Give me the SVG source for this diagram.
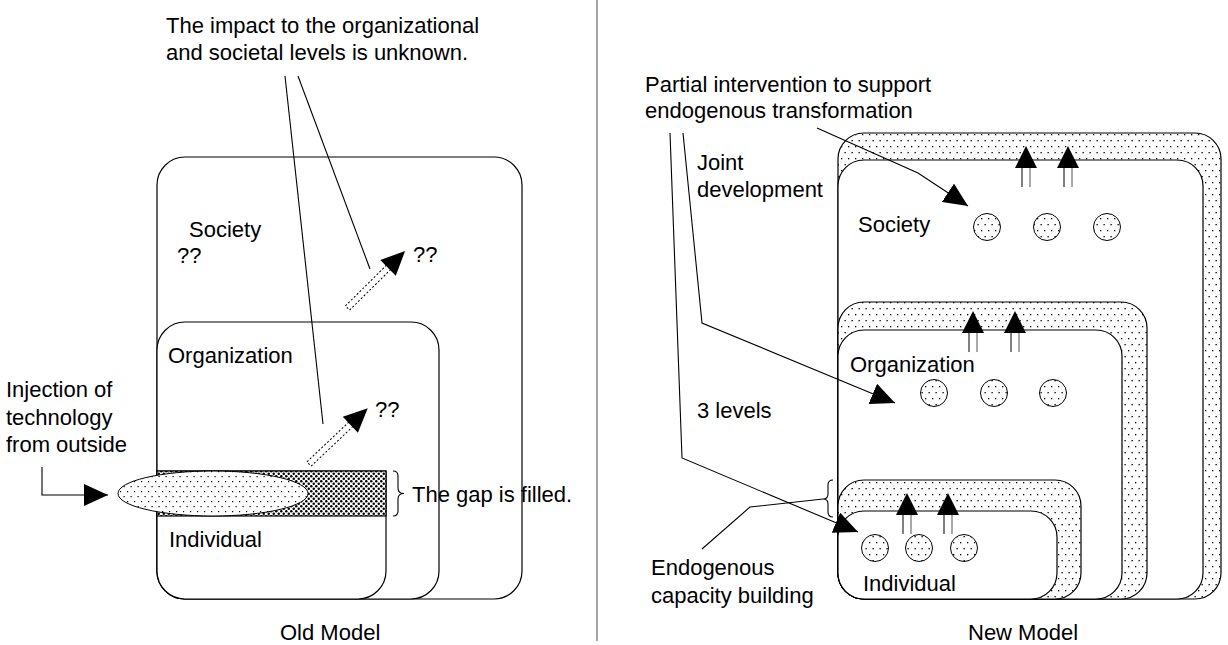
<svg xmlns="http://www.w3.org/2000/svg" width="1228" height="645" viewBox="0 0 1228 645">
  <style>
    text { font-family: "Liberation Sans", Arial, Helvetica, sans-serif; font-size: 22px; fill: #000; }
    .box { stroke: #000; stroke-width: 1.2; }
    .wire { fill: none; stroke: #000; stroke-width: 1.1; }
    .hollow { fill: #fff; stroke: #000; stroke-width: 1; stroke-dasharray: 2 2; }
  </style>
  <defs>
    <!-- sparse staggered dots used for capacity bands and small circles -->
    <pattern id="dots" width="7" height="12" patternUnits="userSpaceOnUse">
      <rect width="7" height="12" fill="#fff"/>
      <rect x="1" y="2" width="1.3" height="1.3" fill="#000"/>
      <rect x="4.5" y="8" width="1.3" height="1.3" fill="#000"/>
    </pattern>
    <!-- slightly denser dots for the injected technology -->
    <pattern id="fine" width="7" height="10" patternUnits="userSpaceOnUse">
      <rect width="7" height="10" fill="#fff"/>
      <rect x="1" y="1" width="1.2" height="1.2" fill="#000"/>
      <rect x="4.5" y="6" width="1.2" height="1.2" fill="#000"/>
    </pattern>
    <!-- dense checker of dots for the filled gap -->
    <pattern id="dense" width="5" height="5" patternUnits="userSpaceOnUse">
      <rect width="5" height="5" fill="#fff"/>
      <circle cx="1.25" cy="1.25" r="1.25" fill="#000"/>
      <circle cx="3.75" cy="3.75" r="1.25" fill="#000"/>
    </pattern>
    <marker id="head" viewBox="0 0 24 22" refX="24" refY="11" markerWidth="24" markerHeight="22" markerUnits="userSpaceOnUse" orient="auto">
      <path d="M0,0 L24,11 L0,22 Z" fill="#000"/>
    </marker>
    <!-- upward double-shaft arrow, origin at base of head -->
    <g id="uparrow">
      <line x1="-4" y1="0" x2="-4" y2="19" stroke="#000" stroke-width="1"/>
      <line x1="4" y1="0" x2="4" y2="19" stroke="#555" stroke-width="1"/>
      <path d="M-11,0 L0,-22 L11,0 Z" fill="#000"/>
    </g>
    <!-- hollow dotted arrow pointing along +x -->
    <g id="dashedarrow">
      <rect x="0" y="-3" width="58" height="6" class="hollow"/>
      <path d="M57,-11 L81,0 L57,11 Z" fill="#000"/>
    </g>
  </defs>

  <rect width="1228" height="645" fill="#fff"/>

  <!-- divider between the two models -->
  <line x1="597" y1="0" x2="597" y2="641" stroke="#777" stroke-width="1.3"/>

  <!-- ===== Old model ===== -->
  <g id="old-society">
    <rect class="box" x="157" y="157" width="365" height="442" rx="28" fill="#fff"/>
    <text x="189" y="237">Society</text>
    <text x="177" y="263">??</text>
  </g>
  <g id="old-organization">
    <rect class="box" x="157" y="322" width="282" height="277" rx="28" fill="#fff"/>
    <text x="168" y="363">Organization</text>
  </g>
  <g id="old-individual">
    <path class="box" d="M157,471 H386 V571 A28,28 0 0 1 358,599 H185 A28,28 0 0 1 157,571 Z" fill="#fff"/>
    <text x="169" y="547">Individual</text>
  </g>
  <g id="old-gap">
    <rect class="box" x="157" y="471" width="229" height="45" fill="url(#dense)"/>
    <path class="wire" d="M393,471 Q398,471 398,476 L398,488 Q398,493.5 404,493.5 Q398,493.5 398,499 L398,511 Q398,516 393,516"/>
    <text x="412" y="502">The gap is filled.</text>
  </g>
  <g id="old-technology">
    <ellipse cx="213" cy="493.5" rx="95" ry="22.5" fill="url(#fine)" stroke="#000" stroke-width="1"/>
  </g>
  <g id="old-injection">
    <text x="6" y="397">Injection of</text>
    <text x="6" y="425">technology</text>
    <text x="6" y="452">from outside</text>
  </g>
  <g id="old-impacts">
    <use href="#dashedarrow" transform="translate(309,464) rotate(-43.5)"/>
    <text x="375" y="417">??</text>
    <use href="#dashedarrow" transform="translate(347.5,308) rotate(-44.7)"/>
    <text x="413" y="262">??</text>
  </g>
  <g id="old-note">
    <text x="166" y="33">The impact to the organizational</text>
    <text x="166" y="60">and societal levels is unknown.</text>
  </g>
  <text x="280" y="640">Old Model</text>

  <!-- ===== New model ===== -->
  <g id="new-society">
    <rect class="box" x="838" y="133" width="383" height="466" rx="26" fill="url(#dots)"/>
    <rect class="box" x="838" y="160" width="365" height="439" rx="26" fill="#fff"/>
    <use href="#uparrow" x="1026" y="168"/>
    <use href="#uparrow" x="1068" y="168"/>
    <circle cx="987" cy="227" r="13.5" fill="url(#dots)" stroke="#000"/>
    <circle cx="1047" cy="227" r="13.5" fill="url(#dots)" stroke="#000"/>
    <circle cx="1107" cy="227" r="13.5" fill="url(#dots)" stroke="#000"/>
    <text x="858" y="232">Society</text>
  </g>
  <g id="new-organization">
    <rect class="box" x="838" y="302" width="309" height="297" rx="26" fill="url(#dots)"/>
    <rect class="box" x="838" y="330" width="284" height="269" rx="26" fill="#fff"/>
    <use href="#uparrow" x="973" y="333"/>
    <use href="#uparrow" x="1015" y="333"/>
    <circle cx="934" cy="393" r="13.5" fill="url(#dots)" stroke="#000"/>
    <circle cx="994" cy="393" r="13.5" fill="url(#dots)" stroke="#000"/>
    <circle cx="1053" cy="393" r="13.5" fill="url(#dots)" stroke="#000"/>
    <text x="850" y="372">Organization</text>
  </g>
  <g id="new-individual">
    <rect class="box" x="838" y="480" width="243" height="119" rx="26" fill="url(#dots)"/>
    <rect class="box" x="838" y="511" width="219" height="88" rx="26" fill="#fff"/>
    <use href="#uparrow" x="907" y="515"/>
    <use href="#uparrow" x="948" y="515"/>
    <circle cx="875" cy="548" r="13.5" fill="url(#dots)" stroke="#000"/>
    <circle cx="919" cy="548" r="13.5" fill="url(#dots)" stroke="#000"/>
    <circle cx="964" cy="548" r="13.5" fill="url(#dots)" stroke="#000"/>
    <text x="863" y="591">Individual</text>
  </g>
  <g id="new-labels">
    <text x="645" y="92">Partial intervention to support</text>
    <text x="645" y="118">endogenous transformation</text>
    <text x="697" y="170">Joint</text>
    <text x="697" y="197">development</text>
    <text x="697" y="418">3 levels</text>
    <text x="651" y="575">Endogenous</text>
    <text x="651" y="603">capacity building</text>
  </g>
  <text x="968" y="640">New Model</text>

  <!-- connectors -->
  <g id="connectors">
    <path class="wire" d="M285,76 L323,424"/>
    <path class="wire" d="M298,76 L370,269"/>
    <path class="wire" d="M42,467 L42,495 L108,495" marker-end="url(#head)"/>
    <path class="wire" d="M817,128 L918,173 L968,206" marker-end="url(#head)"/>
    <path class="wire" d="M683,133 L702,323 L895,403" marker-end="url(#head)"/>
    <path class="wire" d="M670,133 L682,458 L858,532" marker-end="url(#head)"/>
    <path class="wire" d="M833,480 Q828,480 828,485 L828,494 Q828,499 823,499 Q828,499 828,504 L828,512 Q828,517 833,517"/>
    <path class="wire" d="M823,499 L750,507 L702,549"/>
  </g>
</svg>
